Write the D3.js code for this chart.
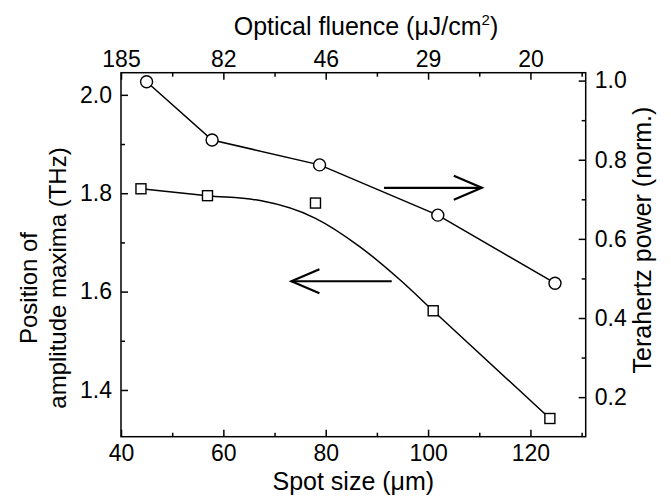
<!DOCTYPE html>
<html>
<head>
<meta charset="utf-8">
<script src="https://cdn.jsdelivr.net/npm/d3@7/dist/d3.min.js"></script>
<style>
  body { margin: 0; background: #fff; }
  text { font-family: "Liberation Sans", Arial, sans-serif; fill: #000; }
</style>
</head>
<body>
<div id="chart"></div>
<script>
// data
var spotTicks = [40, 60, 80, 100, 120],
    spotMinor = [50, 70, 90, 110, 130],
    fluenceLabels = ["185", "82", "46", "29", "20"];

var freqTicks = [1.4, 1.6, 1.8, 2.0],
    freqMinor = [1.5, 1.7, 1.9];
var powerTicks = [0.2, 0.4, 0.6, 0.8, 1.0],
    powerMinor = [0.3, 0.5, 0.7, 0.9];

// squares: position of amplitude maxima (THz), left axis
var squareSpot = [43.9, 56.9, 78.0, 101.0, 123.8],
    squareFreq = [1.809, 1.795, 1.780, 1.561, 1.342];
// fitted curve through the squares
var fitSpot = [43.9, 56.9, 67.2, 78.0, 86.7, 94.5, 101.0, 123.8],
    fitFreq = [1.809, 1.795, 1.785, 1.749, 1.691, 1.624, 1.561, 1.342];
// circles: terahertz power (norm.), right axis
var circleSpot = [45.0, 57.8, 78.8, 101.9, 124.8],
    circlePower = [0.997, 0.850, 0.787, 0.660, 0.488];

// arrows [x0, x1, y] in data units
var arrowRight = [91.4, 110.5, 0.729],   // right axis
    arrowLeft = [92.9, 73.3, 1.621];     // left axis

var width = 671, height = 497,
    margin = {top: 72.7, right: 85.3, bottom: 60.3, left: 121},
    contentWidth = width - margin.left - margin.right,
    contentHeight = height - margin.top - margin.bottom;

var x = d3.scaleLinear().domain([40, 130.8]).range([0, contentWidth]),
    yL = d3.scaleLinear().domain([1.305, 2.045]).range([contentHeight, 0]),
    yR = d3.scaleLinear().domain([0.1, 1.02]).range([contentHeight, 0]);

var svg = d3.select("#chart").append("svg").attr("width", width).attr("height", height),
    g = svg.append("g").attr("transform", "translate(" + margin.left + "," + margin.top + ")");

function styleAxis(sel) {
    sel.select(".domain").remove();
    sel.selectAll("line").attr("stroke", "#000").attr("stroke-width", 1.5);
    sel.selectAll("text").style("font-size", "23px").attr("fill", "#000");
}

// major axes, ticks pointing inward
g.append("g").attr("transform", "translate(0," + contentHeight + ")")
    .call(d3.axisBottom(x).tickValues(spotTicks).tickSizeInner(-7).tickSizeOuter(0).tickPadding(8))
    .call(styleAxis);
g.append("g")
    .call(d3.axisTop(x).tickValues(spotTicks).tickFormat((d, i) => fluenceLabels[i]).tickSizeInner(-7).tickSizeOuter(0).tickPadding(6))
    .call(styleAxis);
g.append("g")
    .call(d3.axisLeft(yL).tickValues(freqTicks).tickFormat(d3.format(".1f")).tickSizeInner(-7).tickSizeOuter(0).tickPadding(9))
    .call(styleAxis);
g.append("g").attr("transform", "translate(" + contentWidth + ",0)")
    .call(d3.axisRight(yR).tickValues(powerTicks).tickFormat(d3.format(".1f")).tickSizeInner(-7).tickSizeOuter(0).tickPadding(9))
    .call(styleAxis);

// minor ticks
g.append("g").attr("transform", "translate(0," + contentHeight + ")")
    .call(d3.axisBottom(x).tickValues(spotMinor).tickFormat("").tickSizeInner(-4).tickSizeOuter(0)).call(styleAxis);
g.append("g")
    .call(d3.axisTop(x).tickValues(spotMinor).tickFormat("").tickSizeInner(-4).tickSizeOuter(0)).call(styleAxis);
g.append("g")
    .call(d3.axisLeft(yL).tickValues(freqMinor).tickFormat("").tickSizeInner(-4).tickSizeOuter(0)).call(styleAxis);
g.append("g").attr("transform", "translate(" + contentWidth + ",0)")
    .call(d3.axisRight(yR).tickValues(powerMinor).tickFormat("").tickSizeInner(-4).tickSizeOuter(0)).call(styleAxis);

// frame
g.append("rect").attr("width", contentWidth).attr("height", contentHeight)
    .attr("fill", "none").attr("stroke", "#000").attr("stroke-width", 1.5);

// fitted curve for squares
var fitLine = d3.line().x((d, i) => x(fitSpot[i])).y((d, i) => yL(fitFreq[i])).curve(d3.curveMonotoneX);
g.append("path").datum(fitSpot).attr("d", fitLine)
    .attr("fill", "none").attr("stroke", "#000").attr("stroke-width", 1.5);

// line through circles
var powerLine = d3.line().x((d, i) => x(circleSpot[i])).y((d, i) => yR(circlePower[i]));
g.append("path").datum(circleSpot).attr("d", powerLine)
    .attr("fill", "none").attr("stroke", "#000").attr("stroke-width", 1.5);

// markers
var sq = 10;
g.selectAll(".square").data(squareSpot).enter().append("rect")
    .attr("class", "square")
    .attr("x", (d) => x(d) - sq / 2)
    .attr("y", (d, i) => yL(squareFreq[i]) - sq / 2)
    .attr("width", sq).attr("height", sq)
    .attr("fill", "#fff").attr("stroke", "#000").attr("stroke-width", 1.4);

g.selectAll(".circle").data(circleSpot).enter().append("circle")
    .attr("class", "circle")
    .attr("cx", (d) => x(d))
    .attr("cy", (d, i) => yR(circlePower[i]))
    .attr("r", 6)
    .attr("fill", "#fff").attr("stroke", "#000").attr("stroke-width", 1.4);

// arrows
function drawArrow(x0, x1, yPix) {
    var dir = x1 > x0 ? 1 : -1;
    var a = g.append("g").attr("fill", "none").attr("stroke", "#000").attr("stroke-width", 2.2);
    a.append("line").attr("x1", x(x0)).attr("x2", x(x1)).attr("y1", yPix).attr("y2", yPix);
    a.append("path").attr("d", "M" + (x(x1) - dir * 28) + "," + (yPix - 12) +
        "L" + x(x1) + "," + yPix + "L" + (x(x1) - dir * 28) + "," + (yPix + 12));
}
drawArrow(arrowRight[0], arrowRight[1], yR(arrowRight[2]));
drawArrow(arrowLeft[0], arrowLeft[1], yL(arrowLeft[2]));

// axis titles
svg.append("text").attr("x", margin.left + contentWidth / 2).attr("y", 490)
    .attr("text-anchor", "middle").style("font-size", "25px").text("Spot size (\u03bcm)");

var topTitle = svg.append("text").attr("x", 366).attr("y", 35)
    .attr("text-anchor", "middle").style("font-size", "25px");
topTitle.append("tspan").text("Optical fluence (\u03bcJ/cm");
topTitle.append("tspan").attr("dy", -10).style("font-size", "15px").text("2");
topTitle.append("tspan").attr("dy", 10).text(")");

svg.append("text").attr("transform", "translate(37,288) rotate(-90)")
    .attr("text-anchor", "middle").style("font-size", "24px").text("Position of");
svg.append("text").attr("transform", "translate(66,278) rotate(-90)")
    .attr("text-anchor", "middle").style("font-size", "24px").text("amplitude maxima (THz)");

svg.append("text").attr("transform", "translate(651,240) rotate(-90)")
    .attr("text-anchor", "middle").style("font-size", "25px").text("Terahertz power (norm.)");
</script>
</body>
</html>
